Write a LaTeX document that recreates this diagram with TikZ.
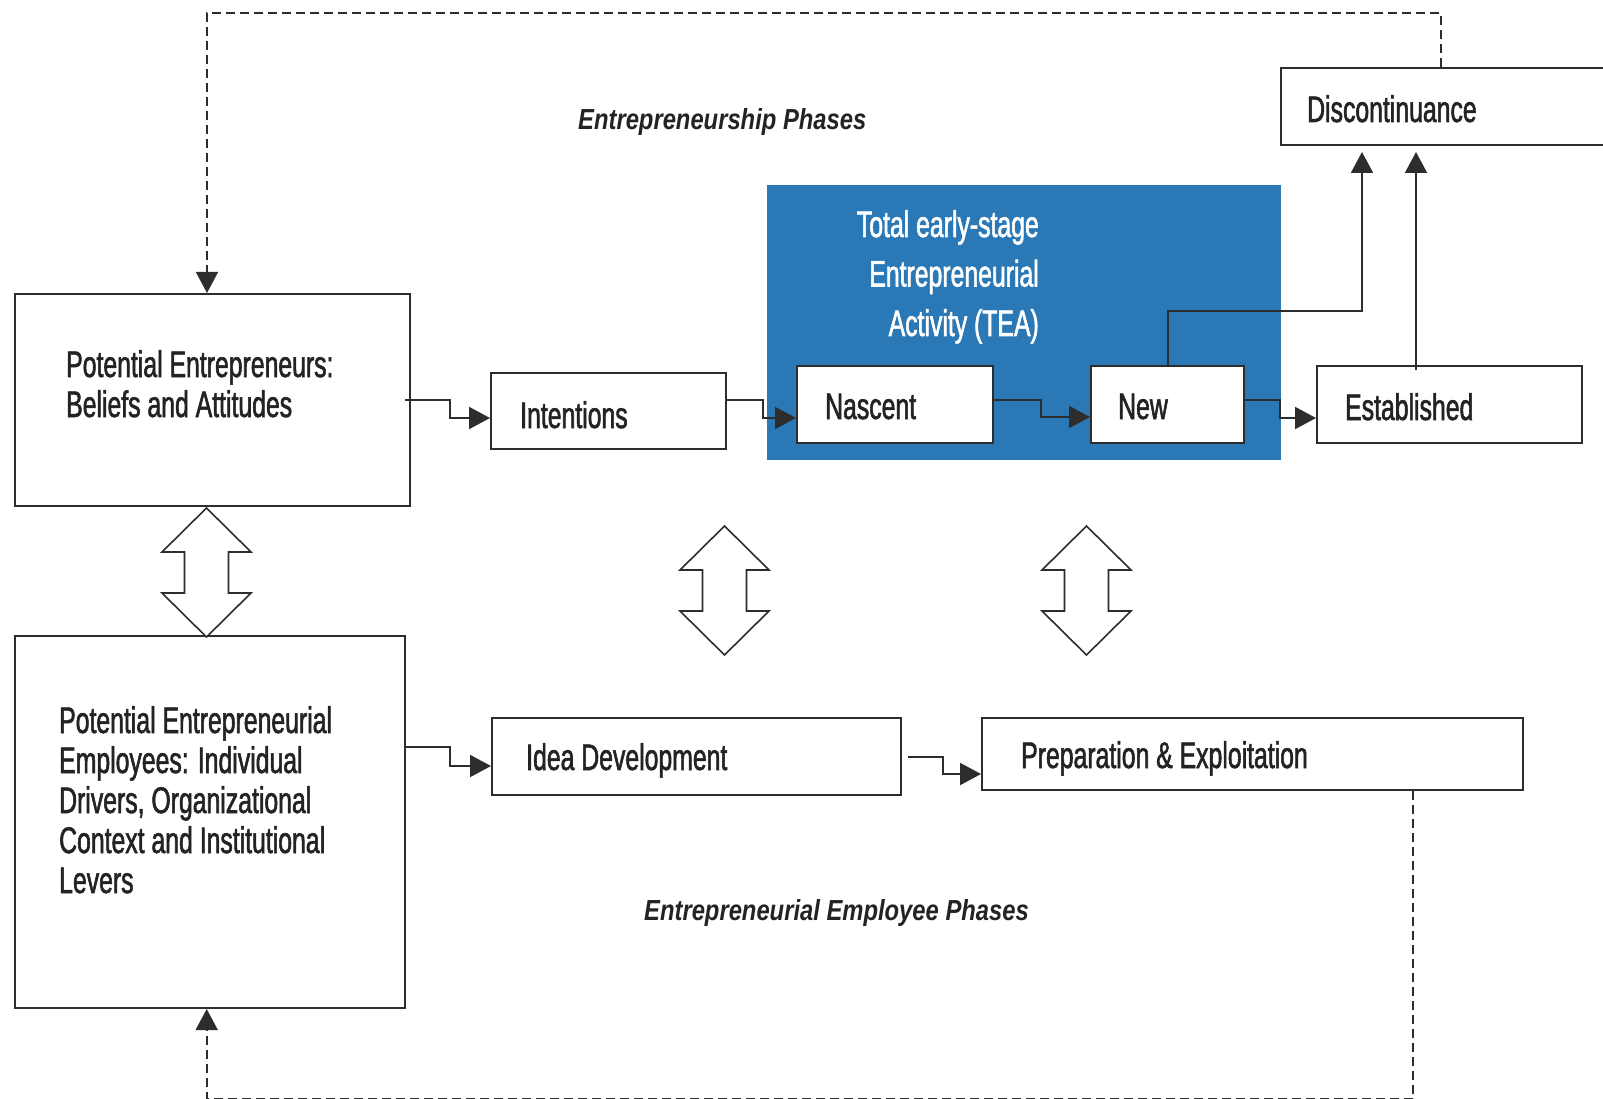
\documentclass[tikz,border=0pt]{standalone}
\usepackage{fontspec}
\setmainfont{Liberation Sans}[FakeStretch=0.67,FakeBold=1.5]
\newfontfamily\phasefont{Liberation Sans}[FakeStretch=0.82]
\usetikzlibrary{arrows.meta,calc}
\definecolor{teablue}{RGB}{42,120,181}
\definecolor{ink}{RGB}{45,45,45}
\definecolor{txt}{RGB}{35,35,35}
\begin{document}
\begin{tikzpicture}[x=1pt,y=-1pt,
  box/.style={draw=ink,line width=2pt,fill=white,inner sep=0pt,anchor=north west},
  lbl/.style={anchor=base west,inner sep=0pt,text=txt,font=\fontsize{37}{40}\selectfont},
  phase/.style={anchor=base west,inner sep=0pt,text=txt,font=\phasefont\bfseries\itshape\fontsize{29}{30}\selectfont},
  arr/.style={draw=ink,line width=2pt,-{Triangle[length=21pt,width=22pt]}},
  dasharr/.style={draw=ink,line width=1.6pt,dash pattern=on 9pt off 5pt,-{Triangle[length=21pt,width=22pt]}},
  dblarrow/.pic={\draw[ink,line width=1.6pt,fill=white,line join=miter]
    (0,0) -- (44.5,44) -- (22,44) -- (22,85) -- (44.5,85) -- (0,129)
    -- (-44.5,85) -- (-22,85) -- (-22,44) -- (-44.5,44) -- cycle;}
]
\clip (0,0) rectangle (1603,1099);
\fill[white] (0,0) rectangle (1603,1099);

% boxes
\node[box,minimum width=395pt,minimum height=212pt] (pe) at (14,293) {};
\node[box,minimum width=390pt,minimum height=372pt] (emp) at (14,635) {};
\node[box,minimum width=235pt,minimum height=76pt] (int) at (490,372) {};
\node[anchor=north west,fill=teablue,inner sep=0pt,minimum width=514pt,minimum height=275pt] (tea) at (767,185) {};
\node[box,minimum width=196pt,minimum height=77pt] (nas) at (796,365) {};
\node[box,minimum width=153pt,minimum height=77pt] (new) at (1090,365) {};
\node[box,minimum width=265pt,minimum height=77pt] (est) at (1316,365) {};
\node[box,minimum width=360pt,minimum height=77pt] (disc) at (1280,67) {};
\node[box,minimum width=409pt,minimum height=77pt] (idea) at (491,717) {};
\node[box,minimum width=541pt,minimum height=72pt] (prep) at (981,717) {};

% texts
\node[lbl] (peT) at (66,377) {\begin{tabular}[t]{@{}l@{}}Potential Entrepreneurs:\\Beliefs and Attitudes\end{tabular}};
\node[lbl] (empT) at (59,733) {\begin{tabular}[t]{@{}l@{}}Potential Entrepreneurial\\Employees: Individual\\Drivers, Organizational\\Context and Institutional\\Levers\end{tabular}};
\node[lbl] (intT) at (520,428) {Intentions};
\node[lbl] (nasT) at (825,419) {Nascent};
\node[lbl] (newT) at (1118,419) {New};
\node[lbl] (estT) at (1345,420) {Established};
\node[lbl] (discT) at (1307,122) {Discontinuance};
\node[lbl] (ideaT) at (526,770) {Idea Development};
\node[lbl] (prepT) at (1021,768) {Preparation \& Exploitation};
\node[anchor=base east,inner sep=0pt,text=white,font=\fontsize{37}{49.5}\selectfont] (teaT) at (1039,237)
  {\begin{tabular}[t]{@{}r@{}}Total early-stage\\Entrepreneurial\\Activity (TEA)\end{tabular}};
\node[phase] (phA) at (578,130) {Entrepreneurship Phases};
\node[phase] (phB) at (644,920) {Entrepreneurial Employee Phases};

% flow connectors
\draw[arr] ([xshift=-6pt]pe.east) -- ++(45,0) |- ([yshift=-7pt]int.west);
\draw[arr] ([yshift=11pt]int.east) -- ++(36,0) |- ([yshift=-13.5pt]nas.west);
\draw[arr] ([yshift=4.5pt]nas.east) -- ++(47,0) |- ([yshift=-12.5pt]new.west);
\draw[arr] ([yshift=4.5pt]new.east) -- ++(35,0) |- ([yshift=-13.5pt]est.west);
\draw[arr] (new.north) -- ++(0,-54) -| ([xshift=82pt,yshift=-6pt]disc.south west);
\coordinate (estUp) at ([xshift=-33.5pt,yshift=-5pt]est.north);
\coordinate (discLow) at ([yshift=-6pt]disc.south);
\draw[arr] (estUp) -- (estUp |- discLow);
\draw[arr] ([yshift=-112pt]emp.north east) -- ++(44,0) |- ([yshift=-9.5pt]idea.west);
\draw[arr] ([xshift=6pt]idea.east) -- ++(35,0) |- ([yshift=-20pt]prep.west);

% feedback loops
\draw[dasharr] ([xshift=161pt]disc.north west) -- ++(0,-54) -| ([xshift=-5.5pt]pe.north);
\draw[dasharr] ([xshift=432pt]prep.south west) -- ++(0,308) -| ([xshift=-3.3pt]emp.south);

% two-way arrows
\pic at ([xshift=-6pt,yshift=-1pt]pe.south) {dblarrow};
\pic at (724.5,526) {dblarrow};
\pic at (1086.5,526) {dblarrow};
\end{tikzpicture}
\end{document}
